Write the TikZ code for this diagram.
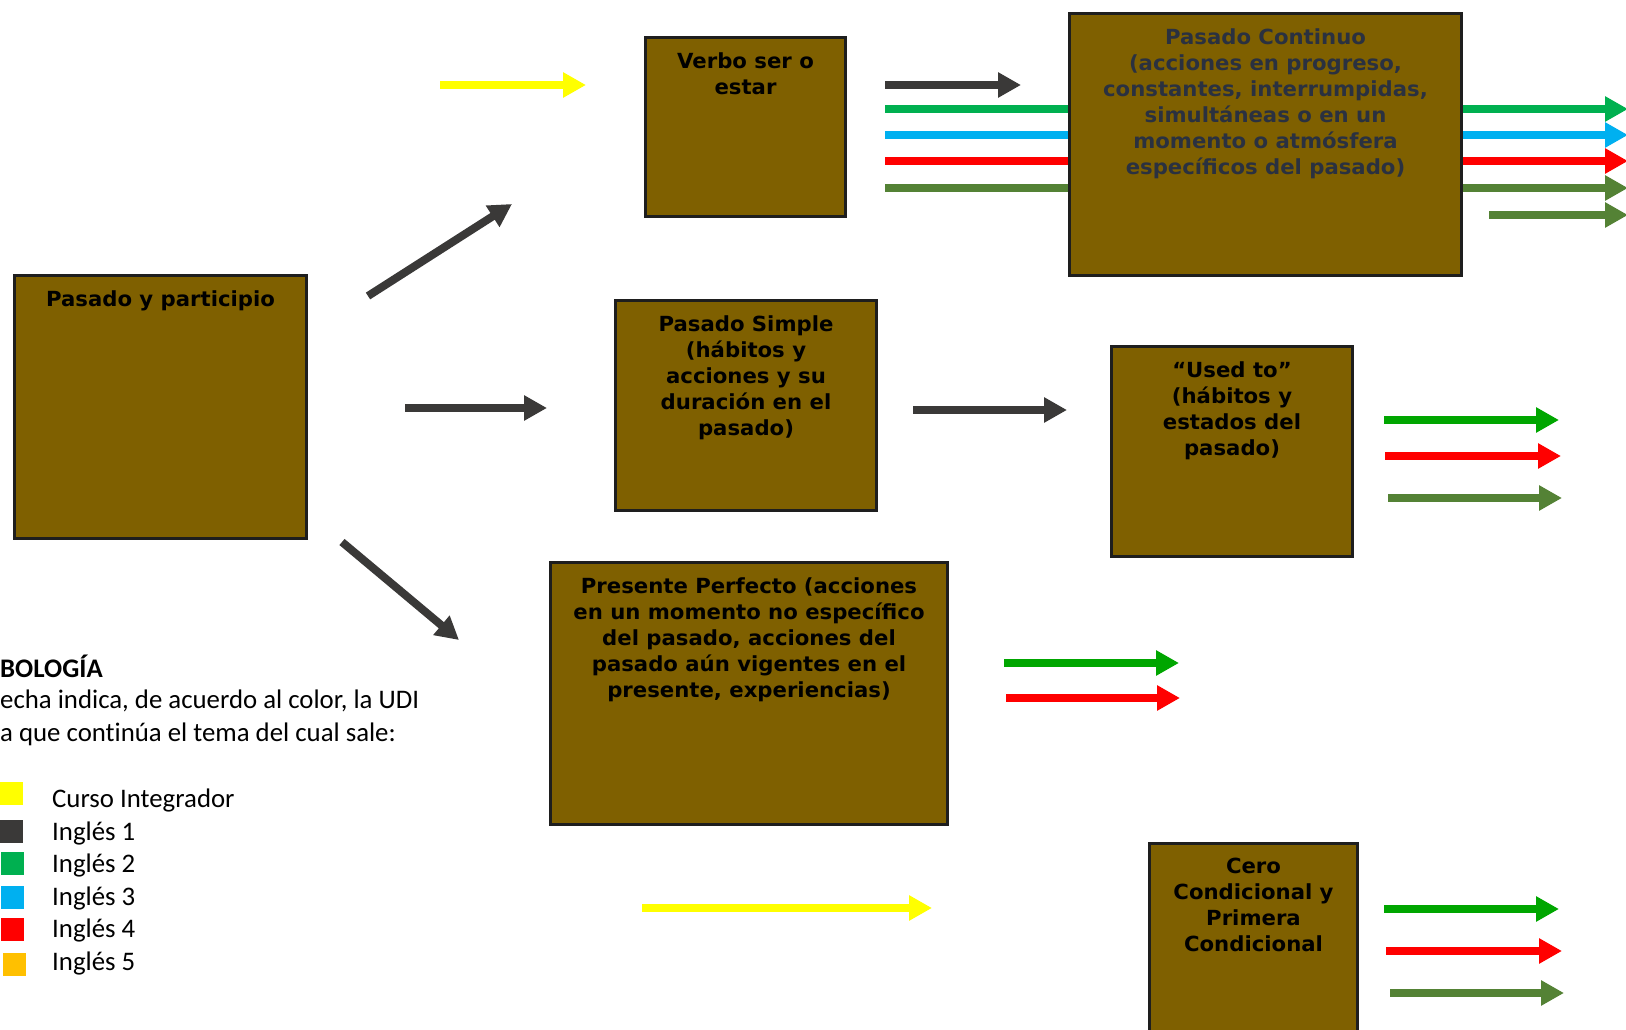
\documentclass[tikz,border=0pt]{standalone}
\usepackage{fontspec}
\setmainfont{Carlito}[Ligatures=NoCommon]
\newfontfamily\verdana{DejaVu Sans}[FakeStretch=1.02]
\usetikzlibrary{arrows.meta}

\definecolor{cafe}{HTML}{7F6000}
\definecolor{borde}{HTML}{1E1E1E}
\definecolor{pizarra}{HTML}{2A3140}
\definecolor{integrador}{HTML}{FFFF00}
\definecolor{inglesuno}{HTML}{3A3938}
\definecolor{inglesdos}{HTML}{00B050}
\definecolor{inglestres}{HTML}{00B0F0}
\definecolor{inglescuatro}{HTML}{FF0000}
\definecolor{inglescinco}{HTML}{FFC000}
\definecolor{verdeoliva}{HTML}{548235}
\definecolor{verdevivo}{HTML}{00A600}

\tikzset{
  tema/.style={draw=borde, line width=3pt, fill=cafe, anchor=north west, inner sep=0pt},
  tematexto/.style={anchor=north, inner sep=0pt, align=center,
    font=\verdana\bfseries\fontsize{20.8}{26}\selectfont},
  flecha/.style={line width=8pt, -{Triangle[length=23pt,width=24pt]}},
  muestra/.style={minimum size=23pt, inner sep=0pt, anchor=north west},
  leyenda/.style={anchor=base west, inner sep=0pt, font=\fontsize{26.8}{32}\selectfont}
}

\begin{document}
\begin{tikzpicture}[x=1pt, y=-1pt]
    \useasboundingbox (0,0) rectangle (1626,1030);

    % arrows (drawn first, the long ones run under the box)
    \foreach \c/\xa/\ya/\xb/\yb in {
        integrador/440/85/586/85,
        inglesuno/368/296/512/204,
        inglesuno/405/408/547/408,
        inglesuno/342/542/459/640,
        inglesuno/885/85/1021/85,
        inglesdos/885/109/1628/109,
        inglestres/885/135/1628/135,
        inglescuatro/885/161/1628/161,
        verdeoliva/885/188/1628/188,
        verdeoliva/1489/215/1628/215,
        inglesuno/913/410/1067/410,
        verdevivo/1384/420/1559/420,
        inglescuatro/1385/456/1561/456,
        verdeoliva/1388/498/1562/498,
        verdevivo/1004/663/1179/663,
        inglescuatro/1006/698/1180/698,
        integrador/642/908/932/908,
        verdevivo/1384/909/1559/909,
        inglescuatro/1386/951/1562/951,
        verdeoliva/1390/993/1564/993}
    {
        \draw[flecha, \c] (\xa,\ya) -- (\xb,\yb);
    }

    % boxes
    \node[tema, minimum width=292pt, minimum height=263pt] (pasado) at (13,274) {};
    \node[tema, minimum width=200pt, minimum height=179pt] (verbo) at (644,36) {};
    \node[tema, minimum width=392pt, minimum height=262pt] (continuo) at (1068,12) {};
    \node[tema, minimum width=261pt, minimum height=210pt] (simple) at (614,299) {};
    \node[tema, minimum width=241pt, minimum height=210pt] (usedto) at (1110,345) {};
    \node[tema, minimum width=397pt, minimum height=262pt] (perfecto) at (549,561) {};
    \node[tema, minimum width=208pt, minimum height=220pt] (cero) at (1148,842) {};

    \node[tematexto] (pasadotxt) at ([yshift=-16pt]pasado.north) {Pasado y participio};
    \node[tematexto] (verbotxt) at ([yshift=-16pt]verbo.north) {Verbo ser o\\estar};
    \node[tematexto, text=pizarra] (continuotxt) at ([yshift=-16pt]continuo.north)
        {Pasado Continuo\\(acciones en progreso,\\constantes, interrumpidas,\\simultáneas o en un\\momento o atmósfera\\específicos del pasado)};
    \node[tematexto] (simpletxt) at ([yshift=-16pt]simple.north)
        {Pasado Simple\\(hábitos y\\acciones y su\\duración en el\\pasado)};
    \node[tematexto] (usedtotxt) at ([yshift=-16pt]usedto.north)
        {“Used to”\\(hábitos y\\estados del\\pasado)};
    \node[tematexto] (perfectotxt) at ([yshift=-16pt]perfecto.north)
        {Presente Perfecto (acciones\\en un momento no específico\\del pasado, acciones del\\pasado aún vigentes en el\\presente, experiencias)};
    \node[tematexto] (cerotxt) at ([yshift=-16pt]cero.north)
        {Cero\\Condicional y\\Primera\\Condicional};

    % legend
    \node[leyenda, font=\bfseries\fontsize{26.8}{32}\selectfont] (simbologia) at (0,677) {BOLOGÍA};
    \node[leyenda] (flechatxt) at (0,708) {echa indica, de acuerdo al color, la UDI};
    \node[leyenda] (continuatxt) at (0,741) {a que continúa el tema del cual sale:};
    \foreach \c/\xs/\ys/\t/\yt [count=\i] in {
        integrador/0/782/Curso Integrador/807,
        inglesuno/0/820/Inglés 1/840,
        inglesdos/1/852/Inglés 2/872,
        inglestres/1/886/Inglés 3/905,
        inglescuatro/1/918/Inglés 4/937,
        inglescinco/3/953/Inglés 5/970}
    {
        \node[muestra, fill=\c] (muestra\i) at (\xs,\ys) {};
        \node[leyenda] (item\i) at (52,\yt) {\t};
    }
\end{tikzpicture}
\end{document}
